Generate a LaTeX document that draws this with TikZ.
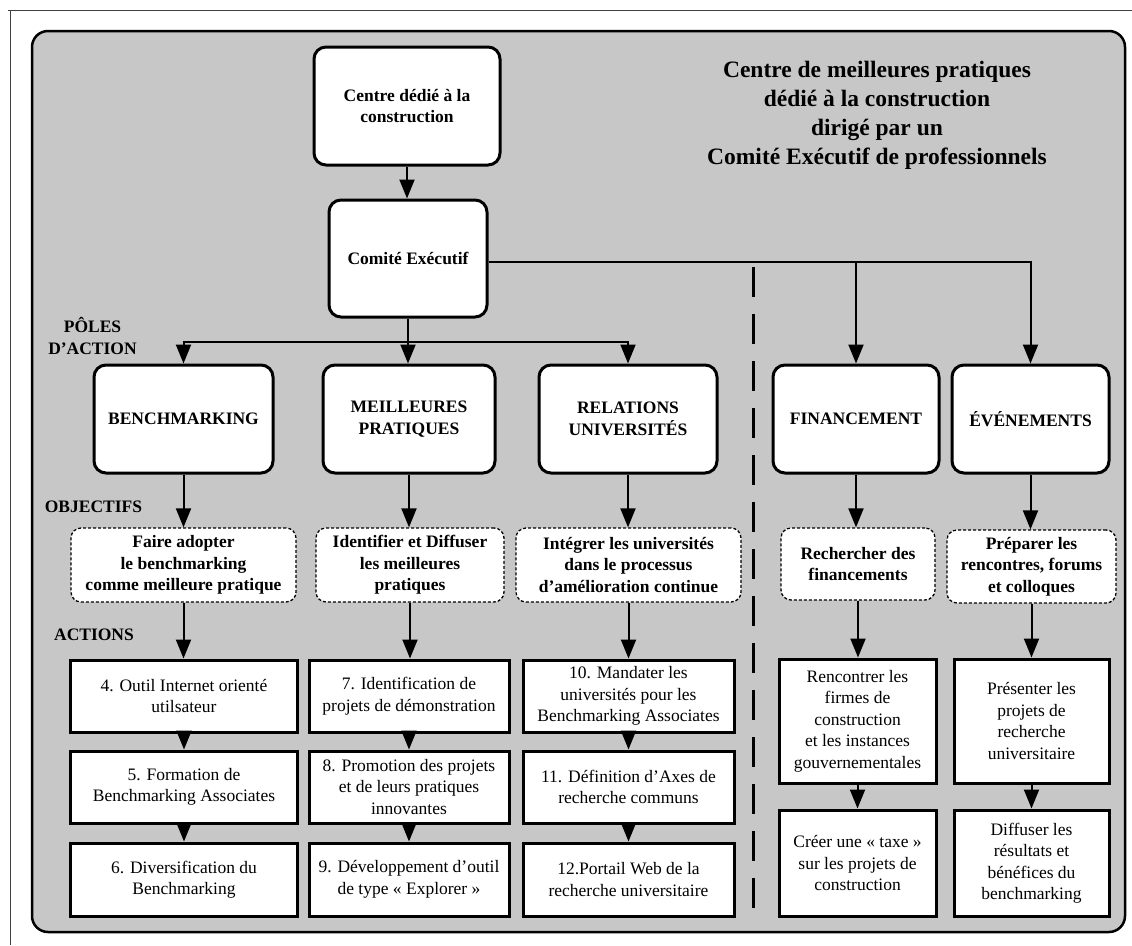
\documentclass[tikz,border=0pt]{standalone}
\usepackage{fontspec}
\setmainfont{Liberation Serif}
\usetikzlibrary{arrows.meta}
\begin{document}
\begin{tikzpicture}[x=1pt,y=-1pt,
  tip/.tip={Triangle[length=19pt,width=15pt]},
  conn/.style={line width=2pt},
  arr/.style={line width=2pt,-{tip}},
  dblarr/.style={line width=2pt,{tip}-{tip}},
  pole/.style={draw,line width=3pt,rounded corners=12pt,fill=white,align=center,inner sep=0pt,font=\fontsize{17.5}{21.5}\selectfont\bfseries},
  objbox/.style={draw,line width=1.3pt,dash pattern=on 3pt off 2pt,rounded corners=10pt,fill=white,align=center,inner sep=0pt,font=\fontsize{17.5}{21.5}\selectfont\bfseries},
  actbox/.style={draw,line width=3pt,fill=white,align=center,inner sep=0pt,font=\fontsize{17.5}{21.5}\selectfont},
  lbl/.style={align=center,inner sep=0pt,font=\fontsize{17.5}{21.5}\selectfont\bfseries},
  ttl/.style={align=center,inner sep=0pt,font=\fontsize{23.5}{29}\selectfont\bfseries},
]
\useasboundingbox (0,0) rectangle (1132,945);
\fill[white] (0,0) rectangle (1132,945);
% outer frame (cropped)
\draw[line width=1pt,black!75] (8,10) -- (1132,10);
\draw[line width=1pt,black!75] (10,10) -- (10,945);
% panel
\draw[line width=2.5pt,fill=black!22,rounded corners=16pt] (32,31) rectangle (1125,932);

% title
\node[ttl] (title) at (877,115) {Centre de meilleures pratiques\\dédié à la construction\\dirigé par un\\Comité Exécutif de professionnels};

% top boxes
\node[pole,minimum width=186pt,minimum height=118pt] (centre) at (407,106) {Centre dédié à la\\construction};
\node[pole,minimum width=158pt,minimum height=117pt] (comite) at (408,258.5) {Comité Exécutif};

% side labels
\node[lbl] (lpa) at (92.5,336) {PÔLES\\D'ACTION};
\node[lbl] (lob) at (93.5,507) {OBJECTIFS};
\node[lbl] (lac) at (94,635) {ACTIONS};

% poles
\node[pole,minimum width=179pt,minimum height=108pt] (bm) at (183.5,419) {BENCHMARKING};
\node[pole,minimum width=172pt,minimum height=108pt] (mp) at (409,419) {MEILLEURES\\PRATIQUES};
\node[pole,minimum width=178pt,minimum height=108pt] (ru) at (628,419) {RELATIONS\\UNIVERSITÉS};
\node[pole,minimum width=166pt,minimum height=108pt] (fin) at (856,419) {FINANCEMENT};
\node[pole,minimum width=157pt,minimum height=108pt] (ev) at (1030.5,419) {ÉVÉNEMENTS};

% objectives
\node[objbox,minimum width=225pt,minimum height=74pt] (o1) at (183.5,565) {Faire adopter\\le benchmarking\\comme meilleure pratique};
\node[objbox,minimum width=188pt,minimum height=74pt] (o2) at (410,565) {Identifier et Diffuser\\les meilleures\\pratiques};
\node[objbox,minimum width=225pt,minimum height=74pt] (o3) at (628.5,565) {Intégrer les universités\\dans le processus\\d’amélioration continue};
\node[objbox,minimum width=154pt,minimum height=72pt] (o4) at (858,564) {Rechercher des\\financements};
\node[objbox,minimum width=169pt,minimum height=73pt] (o5) at (1031.5,566.5) {Préparer les\\rencontres, forums\\et colloques};

% actions col 1
\node[actbox,minimum width=227pt,minimum height=72pt] (a4) at (184,696) {4. Outil Internet orienté\\utilsateur};
\node[actbox,minimum width=227pt,minimum height=72pt] (a5) at (184,787) {5. Formation de\\Benchmarking Associates};
\node[actbox,minimum width=227pt,minimum height=73pt] (a6) at (184,879.5) {6. Diversification du\\Benchmarking};
% col 2
\node[actbox,minimum width=200pt,minimum height=72pt] (a7) at (409,696) {7. Identification de\\projets de démonstration};
\node[actbox,minimum width=200pt,minimum height=72pt] (a8) at (409,787) {8. Promotion des projets\\et de leurs pratiques\\innovantes};
\node[actbox,minimum width=200pt,minimum height=73pt] (a9) at (409,879.5) {9. Développement d’outil\\de type « Explorer »};
% col 3
\node[actbox,minimum width=211pt,minimum height=72pt] (a10) at (628.5,696) {10. Mandater les\\universités pour les\\Benchmarking Associates};
\node[actbox,minimum width=211pt,minimum height=72pt] (a11) at (628.5,787) {11. Définition d’Axes de\\recherche communs};
\node[actbox,minimum width=211pt,minimum height=73pt] (a12) at (628.5,879.5) {12.Portail Web de la\\recherche universitaire};
% col 4
\node[actbox,minimum width=157pt,minimum height=124pt] (f1) at (857.5,721) {Rencontrer les\\firmes de\\construction\\et les instances\\gouvernementales};
\node[actbox,minimum width=157pt,minimum height=106pt] (f2) at (857.5,863) {Créer une « taxe »\\sur les projets de\\construction};
% col 5
\node[actbox,minimum width=155pt,minimum height=124pt] (e1) at (1031.5,721) {Présenter les\\projets de\\recherche\\universitaire};
\node[actbox,minimum width=155pt,minimum height=106pt] (e2) at (1031.5,863) {Diffuser les\\résultats et\\bénéfices du\\benchmarking};

% divider
\draw[line width=3pt,dash pattern=on 30pt off 17pt] (753,267) -- (753,917);

% connectors
\coordinate (hl) at (0,342);
\coordinate (rl) at (0,262);
\draw[arr] (centre.south) -- (centre.south |- comite.north);
\draw[arr] (comite.south) -- (comite.south |- mp.north);
\draw[dblarr] (bm.north) -- (bm.north |- hl) -- (ru.north |- hl) -- (ru.north);
\draw[arr] (comite.east |- rl) -| (ev.north);
\draw[arr] (fin.north |- rl) -- (fin.north);

\foreach \a/\b in {bm/o1,mp/o2,ru/o3,fin/o4,ev/o5,
                   o1/a4,o2/a7,o3/a10,o4/f1,o5/e1,
                   a4/a5,a5/a6,a7/a8,a8/a9,a10/a11,a11/a12,f1/f2,e1/e2}
  \draw[arr] (\a.south) -- (\a.south |- \b.north);
\end{tikzpicture}
\end{document}
